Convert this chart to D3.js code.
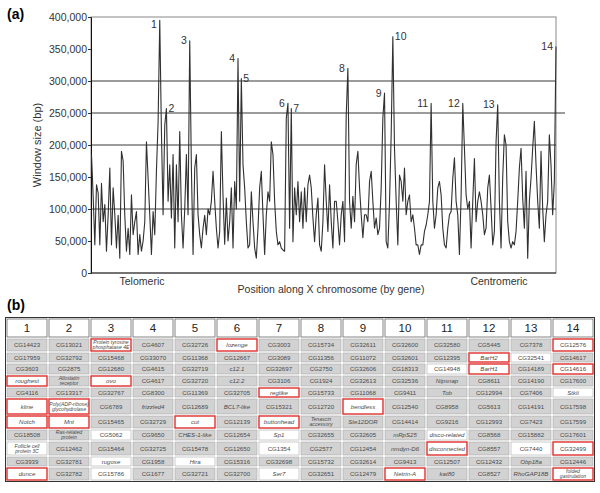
<!DOCTYPE html>
<html>
<head>
<meta charset="utf-8">
<script src="https://cdn.jsdelivr.net/npm/d3@7"></script>
<style>
  body { margin: 0; background: #fff; }
  svg { display: block; font-family: "Liberation Sans", Arial, sans-serif; }
</style>
</head>
<body>
<svg id="chart" width="600" height="493"></svg>
<script>
// window size (thousands of bp) along the X chromosome, one value per gene window
const windowSize = [
  185,120,44,138,125,44,140,80,107,34,
  90,164,44,133,91,39,90,23,190,175,
  90,34,70,29,122,60,80,96,29,60,
  34,50,80,205,148,91,29,96,60,159,
  236,395,221,91,231,257,112,169,86,185,
  39,169,80,221,91,39,100,185,91,363,
  164,29,164,185,91,60,39,70,90,60,
  100,
  91,112,159,112,70,39,65,221,120,45,
  117,50,80,133,39,143,100,335,112,304,
  169,133,80,39,44,127,80,39,23,70,
  133,159,91,29,91,127,112,205,185,112,
  65,44,49,39,36,34,242,265,70,257,
  49,133,91,143,80,127,70,133,80,138,
  153,133,86,49,91,117,44,34,80,169,
  112,65,138,80,39,112,112,80,44,91,
  112,49,247,320,112,70,120,80,170,190,
  133,91,55,91,91,80,143,159,112,70,
  86,60,70,133,242,281,49,39,110,216,
  369,195,112,44,153,143,112,164,91,112,
  122,80,91,70,44,44,29,44,44,65,
  75,91,112,265,112,70,91,133,143,122,
  70,44,39,70,91,96,148,180,112,91,
  29,120,265,195,122,100,112,39,112,179,
  80,112,127,112,91,60,70,133,153,101,
  44,65,205,263,112,39,150,216,200,80,
  49,39,49,44,65,112,164,195,117,70,
  159,23,112,148,195,237,169,112,70,190,
  101,49,91,112,216,169,91,143,354
];

// numbered peaks: index into windowSize, and which side the label sits
const peakIdx = [41,45,59,88,90,118,120,154,176,181,204,223,244,279];
const peakLabels = ["1","2","3","4","5","6","7","8","9","10","11","12","13","14"];
const peakRight = ["2","5","7","10"];

const yTicks = [0,50,100,150,200,250,300,350,400];
const gridLines = [100,200,250,300];

// genes in each numbered region (table b)
const regionGenes = [
  ["CG14423","CG17959","CG3603","roughest","CG4116","kline","Notch","CG18508","Follicle cell protein 3C","CG3939","dunce"],
  ["CG13021","CG32792","CG2875","Allostatin receptor","CG13317","Poly(ADP-ribose) glycohydrolase","Mnt","Ras-related protein","CG12462","CG32781","CG32782"],
  ["Protein tyrosine phosphatase 4E","CG15468","CG12680","ovo","CG32767","CG6789","CG15465","CG5062","CG15464","rugose","CG15786"],
  ["CG4607","CG33070","CG4615","CG4617","CG8300","frizzled4","CG32729","CG9650","CG32725","CG1958","CG1677"],
  ["CG32726","CG11368","CG32719","CG32720","CG11369","CG12689","cut","CHES-1-like","CG15478","Hira","CG32721"],
  ["lozenge","CG12667","c12.1","c12.2","CG32705","BCL7-like","CG12139","CG12654","CG12650","CG15316","CG32700"],
  ["CG3003","CG3089","CG32697","CG3106","reglike","CG15321","buttonhead","Sp1","CG1354","CG32698","Ser7"],
  ["CG15734","CG11356","CG2750","CG1924","CG15733","CG12720","Tenascin accessory","CG32655","CG2577","CG15732","CG32651"],
  ["CG32611","CG11072","CG32606","CG32613","CG11068","bendless","Ste12DOR","CG32605","CG12454","CG32614","CG12479"],
  ["CG32600","CG32601","CG18313","CG32536","CG9411","CG12540","CG14414","mRpS25","nmdyn-D6","CG9413","Netrin-A"],
  ["CG32580","CG12395","CG14948","Nipsnap","Tob","CG8958","CG9216","disco-related","disconnected","CG12507","kat80"],
  ["CG5445","BarH2","BarH1","CG8611","CG12994","CG5613","CG12993","CG8568","CG8557","CG12432","CG8527"],
  ["CG7378","CG32541","CG14189","CG14190","CG7406","CG14191","CG7423","CG15882","CG7440","Obp18a","RhoGAP18B"],
  ["CG12576","CG14617","CG14616","CG17600","Stkli","CG17598","CG17599","CG17601","CG32499","CG12446","folded gastrulation"]
];

// highlighted (white) cells and those outlined in red
const whiteGenes = ["roughest","kline","Notch","Follicle cell protein 3C","dunce","Poly(ADP-ribose) glycohydrolase","Mnt",
  "Protein tyrosine phosphatase 4E","ovo","CG5062","rugose","CG15786","cut","Hira","lozenge","reglike","buttonhead","Sp1",
  "CG1354","Ser7","bendless","Netrin-A","CG14948","disco-related","disconnected","BarH2","BarH1","CG32541","CG7440",
  "CG12576","CG14616","Stkli","CG32499","folded gastrulation"];
const redGenes = ["Protein tyrosine phosphatase 4E","lozenge","roughest","ovo","reglike","Poly(ADP-ribose) glycohydrolase",
  "kline","Notch","Mnt","cut","buttonhead","dunce","bendless","BarH2","BarH1","CG12576","CG14616","disconnected",
  "CG32499","Netrin-A","folded gastrulation"];

const svg = d3.select("#chart");

// ---------- (a) line chart ----------
const plot = {left: 91, right: 556, top: 17, bottom: 273};

const x = d3.scaleLinear().domain([0, windowSize.length - 1]).range([plot.left + 0.5, plot.right]);
const y = d3.scaleLinear().domain([0, 400]).range([plot.bottom, plot.top]);

svg.append("text").attr("x", 7).attr("y", 19)
  .attr("font-size", 14).attr("font-weight", "bold").text("(a)");

// frame (top/right light)
svg.append("rect")
  .attr("x", plot.left).attr("y", plot.top)
  .attr("width", plot.right - plot.left).attr("height", plot.bottom - plot.top)
  .attr("fill", "none").attr("stroke", "#888").attr("stroke-width", 1);

svg.append("g").selectAll("line").data(gridLines).join("line")
  .attr("x1", plot.left).attr("x2", d => d === 250 ? plot.right + 9 : plot.right)
  .attr("y1", d => y(d)).attr("y2", d => y(d))
  .attr("stroke", "#222").attr("stroke-width", 0.9);

// y axis
const yAxis = d3.axisLeft(y).tickValues(yTicks).tickSize(3).tickPadding(1)
  .tickFormat(d => d3.format(",")(d * 1000));
const ya = svg.append("g").attr("transform", `translate(${plot.left},0)`).call(yAxis);
ya.select(".domain").attr("stroke", "#111");
ya.selectAll("line").attr("stroke", "#333");
ya.selectAll("text").attr("font-size", 10.5).attr("fill", "#333").attr("font-family", "Liberation Sans, Arial");

// bottom axis line
svg.append("line").attr("x1", plot.left).attr("x2", plot.right)
  .attr("y1", plot.bottom).attr("y2", plot.bottom)
  .attr("stroke", "#222").attr("stroke-width", 1.2);

// the data line
const line = d3.line().x((d, i) => x(i)).y(d => y(d));
svg.append("path").datum(windowSize)
  .attr("d", line)
  .attr("fill", "none").attr("stroke", "#303030").attr("stroke-width", 1.1)
  .attr("stroke-linejoin", "round");

// peak numbers
svg.append("g").selectAll("text").data(peakIdx).join("text")
  .attr("x", (d, i) => peakRight.includes(peakLabels[i]) ? x(d) + 2 : x(d) - 3)
  .attr("y", (d, i) => y(windowSize[d]) + (peakLabels[i] === "1" ? 8 : 3.5))
  .attr("text-anchor", (d, i) => peakRight.includes(peakLabels[i]) ? "start" : "end")
  .attr("font-size", 10.5).attr("fill", "#333")
  .text((d, i) => peakLabels[i]);

svg.append("text")
  .attr("transform", `translate(41,${(plot.top + plot.bottom) / 2}) rotate(-90)`)
  .attr("text-anchor", "middle").attr("font-size", 11).attr("fill", "#333")
  .text("Window size (bp)");

svg.append("text").attr("x", 142).attr("y", 285).attr("text-anchor", "middle")
  .attr("font-size", 10.5).attr("fill", "#333").text("Telomeric");
svg.append("text").attr("x", 499).attr("y", 285).attr("text-anchor", "middle")
  .attr("font-size", 10.5).attr("fill", "#333").text("Centromeric");
svg.append("text").attr("x", 331).attr("y", 293).attr("text-anchor", "middle")
  .attr("font-size", 10.5).attr("fill", "#333").text("Position along X chromosome (by gene)");

// ---------- (b) table ----------
svg.append("text").attr("x", 7).attr("y", 310)
  .attr("font-size", 14).attr("font-weight", "bold").text("(b)");

const tbl = {left: 6, right: 594, top: 318, headH: 20};
const rowH = [14, 11, 12, 12, 11, 17, 14, 12, 15, 11, 14];
const rowTop = [tbl.top + tbl.headH];
rowH.forEach((h, i) => rowTop.push(rowTop[i] + h));

const col = d3.scaleBand().domain(d3.range(regionGenes.length)).range([tbl.left, tbl.right]);

svg.append("rect").attr("x", tbl.left - 0.5).attr("y", tbl.top - 0.5)
  .attr("width", tbl.right - tbl.left + 1).attr("height", rowTop[rowTop.length - 1] - tbl.top + 1)
  .attr("fill", "#fff").attr("stroke", "#333").attr("stroke-width", 1);

// header cells
const head = svg.append("g").selectAll("g").data(regionGenes).join("g");
head.append("rect")
  .attr("x", (d, i) => col(i) + 1).attr("y", tbl.top + 1)
  .attr("width", col.bandwidth() - 2).attr("height", tbl.headH - 2)
  .attr("fill", "#fff").attr("stroke", "#666").attr("stroke-width", 0.8);
head.append("text")
  .attr("x", (d, i) => col(i) + col.bandwidth() / 2).attr("y", tbl.top + tbl.headH / 2 + 4)
  .attr("text-anchor", "middle").attr("font-size", 11.5).attr("fill", "#222")
  .text((d, i) => i + 1);

// gene cells
const cells = [];
regionGenes.forEach((genes, c) => genes.forEach((g, r) => cells.push({c, r, g})));

const cg = svg.append("g").selectAll("g").data(cells).join("g");
cg.append("rect")
  .attr("x", d => col(d.c) + 1).attr("y", d => rowTop[d.r] + 1)
  .attr("width", col.bandwidth() - 2).attr("height", d => rowH[d.r] - 2)
  .attr("fill", d => whiteGenes.includes(d.g) ? "#fff" : "#d2d2d2")
  .attr("stroke", d => redGenes.includes(d.g) ? "#e0302c" : "#a8a8a8")
  .attr("stroke-width", d => redGenes.includes(d.g) ? 1.4 : 0.6);

const italic = g => !/^CG\d+$/.test(g);
cg.each(function(d) {
  const long = d.g.length > 14;
  const fs = long ? 5.1 : 6.1;
  const t = d3.select(this).append("text")
    .attr("text-anchor", "middle")
    .attr("font-size", fs)
    .attr("font-style", italic(d.g) ? "italic" : "normal")
    .attr("fill", "#4a4a4a");
  const cx = col(d.c) + col.bandwidth() / 2;
  const cy = rowTop[d.r] + rowH[d.r] / 2;
  // break long names over two lines
  let lines = [d.g];
  if (long) {
    const words = d.g.split(" ");
    let a = [], b = [];
    words.forEach(wd => (a.join(" ").length + wd.length < d.g.length / 2 + 4 && b.length === 0 ? a : b).push(wd));
    lines = b.length ? [a.join(" "), b.join(" ")] : [d.g];
  }
  lines.forEach((ln, k) => {
    t.append("tspan").attr("x", cx)
      .attr("y", cy + fs * 0.35 + (k - (lines.length - 1) / 2) * fs * 1.05)
      .text(ln);
  });
});
</script>
</body>
</html>
